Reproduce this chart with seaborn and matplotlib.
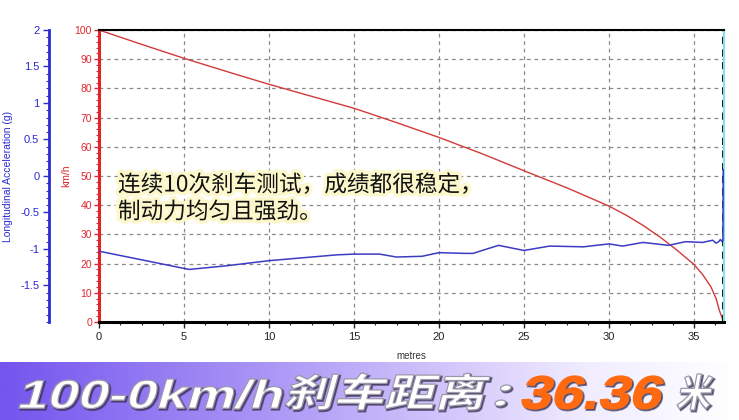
import numpy as np
import pandas as pd
import matplotlib
matplotlib.use("Agg")
import matplotlib.pyplot as plt
import seaborn as sns
from matplotlib.ticker import MultipleLocator
from matplotlib.textpath import TextPath
from matplotlib.font_manager import FontProperties
from matplotlib.patches import PathPatch
from matplotlib.transforms import Affine2D
from matplotlib.colors import LinearSegmentedColormap
import matplotlib.patheffects as pe

# speed trace (km/h vs metres)
dist_kmh = [0, 2.5, 5, 7.5, 10, 12.5, 15, 17.5, 20, 22.5, 25, 27.5, 30, 31, 32, 33, 34, 35, 35.5, 36, 36.3, 36.5, 36.65, 36.72]
speed_kmh = [100, 95.1, 90.3, 85.8, 81.4, 77.3, 73.2, 68.3, 63.2, 57.7, 51.8, 46.0, 39.7, 36.6, 33.1, 29.1, 24.6, 19.7, 16.3, 12.0, 8.0, 3.8, 1.5, 0]

# longitudinal acceleration trace (g vs metres)
dist_g = [0, 5.3, 7.5, 10, 12, 14, 15, 16.5, 17.5, 19, 20, 21.5, 22, 23.5, 25, 26.5, 28.5, 30, 30.8, 32, 33.5, 34.5, 35.5, 36.1, 36.3, 36.45, 36.55, 36.65, 36.7, 36.72]
accel_g = [-1.03, -1.28, -1.23, -1.16, -1.12, -1.08, -1.07, -1.07, -1.11, -1.10, -1.05, -1.06, -1.06, -0.95, -1.02, -0.96, -0.97, -0.93, -0.96, -0.91, -0.95, -0.90, -0.91, -0.88, -0.92, -0.90, -0.87, -0.90, -0.89, 0.09]

x_ticks = [0, 5, 10, 15, 20, 25, 30, 35]
kmh_ticks = [0, 10, 20, 30, 40, 50, 60, 70, 80, 90, 100]
g_ticks = [-1.5, -1, -0.5, 0, 0.5, 1, 1.5, 2]
g_ticklabels = ["-1.5", "-1", "-0.5", "0", "0.5", "1", "1.5", "2"]

note_lines = ["连续10次刹车测试，成绩都很稳定，", "制动力均匀且强劲。"]
banner_parts = ["100-0km/h", "刹车距离", "：", "36.36", "米"]

df_v = pd.DataFrame({"metres": dist_kmh, "kmh": speed_kmh})
df_g = pd.DataFrame({"metres": dist_g, "g": accel_g})

sns.set_style("ticks")
plt.rcParams["font.family"] = ["Liberation Sans", "Noto Sans CJK SC", "DejaVu Sans"]

RED = "#e0262c"
BLUE = "#2a2ad0"

fig = plt.figure(figsize=(7.39, 4.2), dpi=100)
xmax = 36.78
ax = fig.add_axes([99 / 739, 98 / 420, xmax * 17 / 739, 292 / 420])

sns.lineplot(data=df_v, x="metres", y="kmh", ax=ax, color="#d23a3a", lw=1.0,
             estimator=None, sort=False)
ax.set_xlim(0, xmax)
ax.set_ylim(0, 100)
ax.set_xticks(x_ticks)
ax.set_yticks(kmh_ticks)
ax.xaxis.set_minor_locator(MultipleLocator(1.25))
ax.yaxis.set_minor_locator(MultipleLocator(2))
ax.grid(True, which="major", ls=(0, (3, 3)), color="#8a8a8a", lw=0.9)
ax.tick_params(axis="x", which="major", length=4, width=1, labelsize=8, colors="#222222")
ax.tick_params(axis="x", which="minor", length=2.5, width=0.8, colors="#222222")
ax.tick_params(axis="y", which="major", length=3.5, width=1, labelsize=7.5, colors=RED, pad=1.5)
ax.tick_params(axis="y", which="minor", length=2, width=0.8, colors=RED)
ax.spines["left"].set_color(RED)
ax.spines["left"].set_linewidth(2.2)
ax.spines["bottom"].set_color("black")
ax.spines["bottom"].set_linewidth(2.2)
ax.spines["top"].set_color("black")
ax.spines["top"].set_linewidth(1.5)
ax.spines["right"].set_color("#7fe3ee")
ax.spines["right"].set_linewidth(1.5)
ax.axvline(36.72, color="black", ls=(0, (4, 3)), lw=1.3)
ax.set_xlabel("metres", fontsize=7, color="#333333", labelpad=6)
ax.set_ylabel("km/h", fontsize=7.5, color=RED)
ax.yaxis.set_label_coords(-0.045, 0.5)

ax2 = ax.twinx()
sns.lineplot(data=df_g, x="metres", y="g", ax=ax2, color="#3b3bc4", lw=1.1,
             estimator=None, sort=False)
ax2.set_ylim(-2, 2)
ax2.set_yticks(g_ticks)
ax2.set_yticklabels(g_ticklabels)
ax2.yaxis.set_minor_locator(MultipleLocator(0.1))
ax2.yaxis.tick_left()
ax2.yaxis.set_label_position("left")
for s in ["right", "top", "bottom"]:
    ax2.spines[s].set_visible(False)
ax2.spines["left"].set_visible(True)
ax2.spines["left"].set_position(("outward", 36))
ax2.spines["left"].set_color(BLUE)
ax2.spines["left"].set_linewidth(2)
ax2.tick_params(axis="y", which="major", length=4, width=1, labelsize=8, colors=BLUE, pad=3)
ax2.tick_params(axis="y", which="minor", length=2, width=0.8, colors=BLUE)
ax2.set_ylabel("Longitudinal Acceleration (g)", fontsize=7.5, color=BLUE)
ax2.yaxis.set_label_coords(-0.138, 0.5)
ax2.set_xlim(0, xmax)

halo = [pe.withStroke(linewidth=5, foreground="#fcf8cc")]
for i, line in enumerate(note_lines):
    fig.text(118 / 739, 1 - (185 + 27 * i) / 420, line, fontsize=16.3, color="#111111",
             family=["Noto Sans CJK SC", "DejaVu Sans"], va="center", ha="left",
             path_effects=halo)

# bottom banner
bax = fig.add_axes([0, 0, 1, 58 / 420])
bax.set_xlim(0, 739)
bax.set_ylim(0, 58)
bax.axis("off")
cmap = LinearSegmentedColormap.from_list(
    "banner", [(0, "#7455ee"), (0.35, "#a994f6"), (0.8, "#f1edff"), (1, "#ffffff")])
bax.imshow(np.linspace(0, 1, 256).reshape(1, -1), extent=[0, 739, 0, 58],
           aspect="auto", cmap=cmap, zorder=0)

latin = FontProperties(family="Liberation Sans", weight="bold")
cjk = FontProperties(family="Noto Sans CJK SC", weight="bold")
fonts = [latin, cjk, cjk, latin, cjk]
colors = ["white", "white", "white", "#ff6a10", "white"]
# boxes in image pixels: x0, x1, top, bottom
boxes = [(19, 282, 379, 409), (285, 490, 373, 410), (495, 511, 385, 406),
         (522, 663, 376, 409), (677, 713, 374, 410)]
for txt, fp, col, (x0, x1, yt, yb) in zip(banner_parts, fonts, colors, boxes):
    p = TextPath((0, 0), txt, size=40, prop=fp)
    p = p.transformed(Affine2D().skew_deg(12, 0))
    ext = p.get_extents()
    sx = (x1 - x0) / ext.width
    sy = (yb - yt) / ext.height
    tr = Affine2D().translate(-ext.x0, -ext.y0).scale(sx, sy).translate(x0, 420 - yb)
    p = p.transformed(tr)
    shadow = p.transformed(Affine2D().translate(1.5, -1.5))
    bax.add_patch(PathPatch(shadow, facecolor="#3a3050", edgecolor="#3a3050", lw=1.4,
                            alpha=0.65, zorder=2))
    edge = "#9a98aa" if col == "white" else col
    bax.add_patch(PathPatch(p, facecolor=col, edgecolor=edge, lw=0.9, zorder=3))

fig.savefig("out.png", dpi=100)
